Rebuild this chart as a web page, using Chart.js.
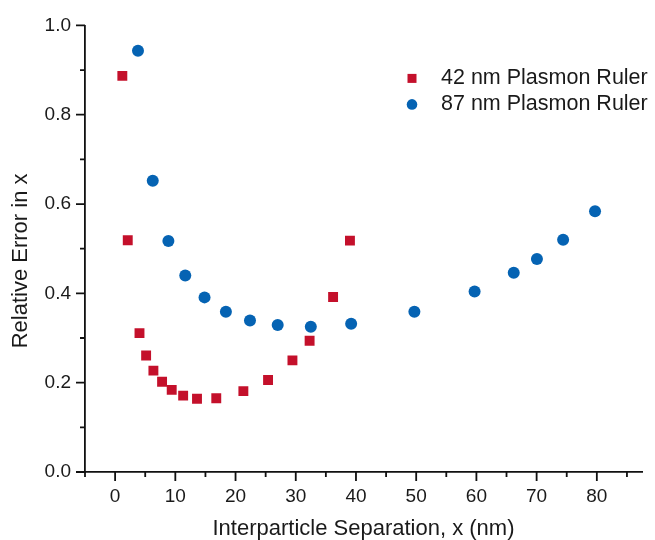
<!DOCTYPE html>
<html>
<head>
<meta charset="utf-8">
<script src="https://cdn.jsdelivr.net/npm/chart.js@4/dist/chart.umd.min.js"></script>
<style>
  html, body { margin:0; padding:0; background:#fff; overflow:hidden; }
  #wrap { width:655px; height:540px; position:relative; }
</style>
</head>
<body>
<div id="wrap"><canvas id="chart"></canvas></div>
<script>
// data
const ruler42X = [1.2, 2.1, 4.05, 5.15, 6.36, 7.8, 9.4, 11.3, 13.6, 16.8, 21.3, 25.4, 29.45, 32.3, 36.2, 39.0];
const ruler42Y = [0.887, 0.519, 0.311, 0.261, 0.227, 0.202, 0.184, 0.171, 0.164, 0.165, 0.181, 0.206, 0.250, 0.294, 0.392, 0.518];
const ruler87X = [3.8, 6.25, 8.85, 11.65, 14.85, 18.4, 22.4, 27.0, 32.5, 39.2, 49.7, 59.7, 66.2, 70.05, 74.4, 79.7];
const ruler87Y = [0.943, 0.652, 0.517, 0.44, 0.391, 0.359, 0.339, 0.329, 0.325, 0.332, 0.359, 0.404, 0.446, 0.477, 0.52, 0.584];
const seriesNames = ["42 nm Plasmon Ruler", "87 nm Plasmon Ruler"];

// tick labels
const xMajorTicks = [0, 10, 20, 30, 40, 50, 60, 70, 80];
const xMinorTicks = [-5, 5, 15, 25, 35, 45, 55, 65, 75, 85];
const yMajorTicks = [0.0, 0.2, 0.4, 0.6, 0.8, 1.0];
const yMinorTicks = [0.1, 0.3, 0.5, 0.7, 0.9];

const RED = "#c4102b";
const BLUE = "#0563b3";
const FONT = "'Liberation Sans', Arial, sans-serif";

function toPoints(xs, ys){
  return xs.map((x,i)=>({x, y:ys[i]}));
}

// axis tick marks, major longer than minor
const tickMarks = {
  id: "tickMarks",
  afterDraw(chart){
    const ctx = chart.ctx;
    const xs = chart.scales.x, ys = chart.scales.y;
    const area = chart.chartArea;
    ctx.save();
    ctx.strokeStyle = "#111";
    ctx.lineWidth = 1.8;
    ctx.beginPath();
    xMajorTicks.forEach(v=>{ let p = xs.getPixelForValue(v); ctx.moveTo(p, area.bottom); ctx.lineTo(p, area.bottom+9); });
    xMinorTicks.forEach(v=>{ let p = xs.getPixelForValue(v); ctx.moveTo(p, area.bottom); ctx.lineTo(p, area.bottom+5); });
    yMajorTicks.forEach(v=>{ let p = ys.getPixelForValue(v); ctx.moveTo(area.left, p); ctx.lineTo(area.left-9, p); });
    yMinorTicks.forEach(v=>{ let p = ys.getPixelForValue(v); ctx.moveTo(area.left, p); ctx.lineTo(area.left-5, p); });
    ctx.stroke();
    ctx.restore();
  }
};

// legend inside the plot, top right
const insideLegend = {
  id: "insideLegend",
  afterDraw(chart){
    const ctx = chart.ctx;
    const area = chart.chartArea;
    const mx = area.right - 230, tx = area.right - 201;
    const rows = [area.top + 53, area.top + 79];
    ctx.save();
    ctx.font = "21.5px " + FONT;
    ctx.textBaseline = "middle";
    ctx.fillStyle = "#1a1a1a";
    ctx.fillText(seriesNames[0], tx, rows[0]);
    ctx.fillText(seriesNames[1], tx, rows[1]);
    ctx.fillStyle = RED;
    ctx.fillRect(mx-4.5, rows[0]-4.5, 9, 9);
    ctx.fillStyle = BLUE;
    ctx.beginPath();
    ctx.arc(mx, rows[1], 5.3, 0, Math.PI*2);
    ctx.fill();
    ctx.restore();
  }
};

new Chart(document.getElementById("chart"), {
  type: "scatter",
  data: {
    datasets: [
      { label: seriesNames[0], data: toPoints(ruler42X, ruler42Y), pointStyle: "rect", pointRadius: 7, pointHoverRadius: 7,
        backgroundColor: RED, borderColor: RED, borderWidth: 0 },
      { label: seriesNames[1], data: toPoints(ruler87X, ruler87Y), pointStyle: "circle", pointRadius: 6, pointHoverRadius: 6,
        backgroundColor: BLUE, borderColor: BLUE, borderWidth: 0 }
    ]
  },
  options: {
    responsive: true,
    maintainAspectRatio: false,
    animation: false,
    layout: { padding: { top: 22, right: 10, left: 0, bottom: 0 } },
    plugins: { legend: { display: false }, tooltip: { enabled: false } },
    scales: {
      x: {
        type: "linear", min: -5, max: 87.5,
        grid: { display: false, drawTicks: false },
        border: { display: true, color: "#111", width: 1.8 },
        ticks: {
          stepSize: 5, autoSkip: false, maxRotation: 0, padding: 13, color: "#1a1a1a",
          font: { family: FONT, size: 19 },
          callback: v => xMajorTicks.includes(v) ? String(v) : ""
        },
        title: { display: true, text: "Interparticle Separation, x (nm)", color: "#1a1a1a",
          font: { family: FONT, size: 22 }, padding: { top: 0, bottom: -2 } },
        afterFit: s => { s.height = 68; }
      },
      y: {
        type: "linear", min: 0, max: 1,
        grid: { display: false, drawTicks: false },
        border: { display: true, color: "#111", width: 1.8 },
        ticks: {
          stepSize: 0.1, autoSkip: false, padding: 14, color: "#1a1a1a",
          font: { family: FONT, size: 19 },
          callback: v => yMajorTicks.some(t => Math.abs(t - v) < 1e-6) ? v.toFixed(1) : ""
        },
        title: { display: true, text: "Relative Error in x    ", color: "#1a1a1a",
          font: { family: FONT, size: 22 }, padding: { top: 8, bottom: 0 } },
        afterFit: s => { s.width = 85; }
      }
    }
  },
  plugins: [tickMarks, insideLegend]
});
</script>
</body>
</html>
